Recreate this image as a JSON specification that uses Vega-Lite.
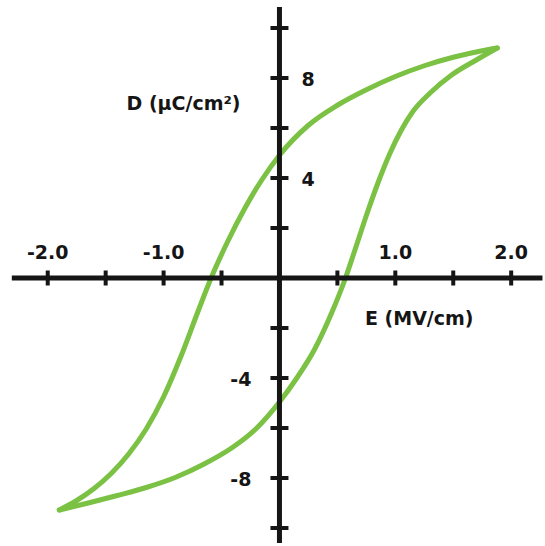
{
  "$schema": "https://vega.github.io/schema/vega-lite/v6.json",
  "width": 545,
  "height": 546,
  "autosize": {"type": "fit", "contains": "padding"},
  "padding": 0,
  "background": "white",
  "config": {"view": {"stroke": null}},
  "datasets": {
    "loop": [
      {"branch": "upper", "E": -1.90, "D": -9.28},
      {"branch": "upper", "E": -1.75, "D": -8.90},
      {"branch": "upper", "E": -1.60, "D": -8.42},
      {"branch": "upper", "E": -1.45, "D": -7.81},
      {"branch": "upper", "E": -1.30, "D": -7.03},
      {"branch": "upper", "E": -1.15, "D": -6.04},
      {"branch": "upper", "E": -1.00, "D": -4.75},
      {"branch": "upper", "E": -0.85, "D": -3.13},
      {"branch": "upper", "E": -0.70, "D": -1.30},
      {"branch": "upper", "E": -0.59, "D": 0.00},
      {"branch": "upper", "E": -0.45, "D": 1.43},
      {"branch": "upper", "E": -0.30, "D": 2.78},
      {"branch": "upper", "E": -0.15, "D": 3.94},
      {"branch": "upper", "E": 0.00, "D": 4.91},
      {"branch": "upper", "E": 0.25, "D": 6.11},
      {"branch": "upper", "E": 0.50, "D": 6.91},
      {"branch": "upper", "E": 0.75, "D": 7.53},
      {"branch": "upper", "E": 1.00, "D": 8.06},
      {"branch": "upper", "E": 1.25, "D": 8.49},
      {"branch": "upper", "E": 1.50, "D": 8.83},
      {"branch": "upper", "E": 1.75, "D": 9.09},
      {"branch": "upper", "E": 1.88, "D": 9.20},
      {"branch": "lower", "E": -1.90, "D": -9.28},
      {"branch": "lower", "E": -1.65, "D": -9.00},
      {"branch": "lower", "E": -1.40, "D": -8.70},
      {"branch": "lower", "E": -1.15, "D": -8.38},
      {"branch": "lower", "E": -0.90, "D": -7.98},
      {"branch": "lower", "E": -0.65, "D": -7.44},
      {"branch": "lower", "E": -0.40, "D": -6.76},
      {"branch": "lower", "E": -0.20, "D": -6.02},
      {"branch": "lower", "E": 0.00, "D": -4.96},
      {"branch": "lower", "E": 0.15, "D": -4.00},
      {"branch": "lower", "E": 0.30, "D": -2.88},
      {"branch": "lower", "E": 0.45, "D": -1.40},
      {"branch": "lower", "E": 0.57, "D": 0.00},
      {"branch": "lower", "E": 0.65, "D": 1.10},
      {"branch": "lower", "E": 0.75, "D": 2.50},
      {"branch": "lower", "E": 0.85, "D": 3.80},
      {"branch": "lower", "E": 0.95, "D": 4.95},
      {"branch": "lower", "E": 1.05, "D": 5.90},
      {"branch": "lower", "E": 1.15, "D": 6.65},
      {"branch": "lower", "E": 1.30, "D": 7.40},
      {"branch": "lower", "E": 1.48, "D": 8.10},
      {"branch": "lower", "E": 1.71, "D": 8.75},
      {"branch": "lower", "E": 1.88, "D": 9.20}
    ],
    "xticks": [
      {"E": -2.0}, {"E": -1.5}, {"E": -1.0}, {"E": -0.5},
      {"E": 0.5}, {"E": 1.0}, {"E": 1.5}, {"E": 2.0}
    ],
    "yticks": [
      {"D": -10}, {"D": -8}, {"D": -6}, {"D": -4}, {"D": -2},
      {"D": 2}, {"D": 4}, {"D": 6}, {"D": 8}, {"D": 10}
    ],
    "xlabels": [
      {"E": -2.0, "label": "-2.0"},
      {"E": -1.0, "label": "-1.0"},
      {"E": 1.0, "label": "1.0"},
      {"E": 2.0, "label": "2.0"}
    ],
    "ylabels": [
      {"D": 8, "label": "8"},
      {"D": 4, "label": "4"},
      {"D": -4, "label": "-4"},
      {"D": -8, "label": "-8"}
    ]
  },
  "layer": [
    {
      "data": {"name": "loop"},
      "mark": {"type": "line", "interpolate": "monotone", "strokeWidth": 5, "color": "#7bc143", "strokeCap": "round", "strokeJoin": "round"},
      "encoding": {
        "x": {"field": "E", "type": "quantitative", "scale": {"domain": [-2.412, 2.266], "nice": false, "zero": false}, "axis": null},
        "y": {"field": "D", "type": "quantitative", "scale": {"domain": [-10.72, 11.12], "nice": false, "zero": false}, "axis": null},
        "detail": {"field": "branch"}
      }
    },
    {
      "data": {"values": [{}]},
      "mark": {"type": "rule", "strokeWidth": 5, "color": "#151515"},
      "encoding": {
        "x": {"datum": -2.31, "type": "quantitative", "scale": {"domain": [-2.412, 2.266], "nice": false, "zero": false}, "axis": null},
        "x2": {"datum": 2.27},
        "y": {"datum": 0, "type": "quantitative", "scale": {"domain": [-10.72, 11.12], "nice": false, "zero": false}, "axis": null}
      }
    },
    {
      "data": {"values": [{}]},
      "mark": {"type": "rule", "strokeWidth": 5, "color": "#151515"},
      "encoding": {
        "x": {"datum": 0, "type": "quantitative", "scale": {"domain": [-2.412, 2.266], "nice": false, "zero": false}, "axis": null},
        "y": {"datum": 10.84, "type": "quantitative", "scale": {"domain": [-10.72, 11.12], "nice": false, "zero": false}, "axis": null},
        "y2": {"datum": -10.6}
      }
    },
    {
      "data": {"name": "xticks"},
      "mark": {"type": "tick", "orient": "vertical", "size": 15, "thickness": 4, "color": "#151515", "opacity": 1},
      "encoding": {
        "x": {"field": "E", "type": "quantitative", "scale": {"domain": [-2.412, 2.266], "nice": false, "zero": false}, "axis": null},
        "y": {"datum": 0, "type": "quantitative", "scale": {"domain": [-10.72, 11.12], "nice": false, "zero": false}, "axis": null}
      }
    },
    {
      "data": {"name": "yticks"},
      "mark": {"type": "tick", "orient": "horizontal", "size": 18, "thickness": 4, "color": "#151515", "opacity": 1},
      "encoding": {
        "x": {"datum": 0, "type": "quantitative", "scale": {"domain": [-2.412, 2.266], "nice": false, "zero": false}, "axis": null},
        "y": {"field": "D", "type": "quantitative", "scale": {"domain": [-10.72, 11.12], "nice": false, "zero": false}, "axis": null}
      }
    },
    {
      "data": {"name": "xlabels"},
      "mark": {"type": "text", "font": "DejaVu Sans", "fontWeight": "bold", "fontSize": 19, "color": "#151515", "align": "center", "baseline": "middle", "dy": -25},
      "encoding": {
        "x": {"field": "E", "type": "quantitative", "scale": {"domain": [-2.412, 2.266], "nice": false, "zero": false}, "axis": null},
        "y": {"datum": 0, "type": "quantitative", "scale": {"domain": [-10.72, 11.12], "nice": false, "zero": false}, "axis": null},
        "text": {"field": "label"}
      }
    },
    {
      "data": {"name": "ylabels"},
      "transform": [{"filter": "datum.D > 0"}],
      "mark": {"type": "text", "font": "DejaVu Sans", "fontWeight": "bold", "fontSize": 19, "color": "#151515", "align": "left", "baseline": "middle", "dx": 22, "dy": 2},
      "encoding": {
        "x": {"datum": 0, "type": "quantitative", "scale": {"domain": [-2.412, 2.266], "nice": false, "zero": false}, "axis": null},
        "y": {"field": "D", "type": "quantitative", "scale": {"domain": [-10.72, 11.12], "nice": false, "zero": false}, "axis": null},
        "text": {"field": "label"}
      }
    },
    {
      "data": {"name": "ylabels"},
      "transform": [{"filter": "datum.D < 0"}],
      "mark": {"type": "text", "font": "DejaVu Sans", "fontWeight": "bold", "fontSize": 19, "color": "#151515", "align": "right", "baseline": "middle", "dx": -28, "dy": 2},
      "encoding": {
        "x": {"datum": 0, "type": "quantitative", "scale": {"domain": [-2.412, 2.266], "nice": false, "zero": false}, "axis": null},
        "y": {"field": "D", "type": "quantitative", "scale": {"domain": [-10.72, 11.12], "nice": false, "zero": false}, "axis": null},
        "text": {"field": "label"}
      }
    },
    {
      "data": {"values": [{}]},
      "mark": {"type": "text", "font": "DejaVu Sans", "fontWeight": "bold", "fontSize": 19, "color": "#151515", "align": "left", "baseline": "alphabetic"},
      "encoding": {
        "x": {"datum": -1.32, "type": "quantitative", "scale": {"domain": [-2.412, 2.266], "nice": false, "zero": false}, "axis": null},
        "y": {"datum": 6.72, "type": "quantitative", "scale": {"domain": [-10.72, 11.12], "nice": false, "zero": false}, "axis": null},
        "text": {"value": "D (μC/cm²)"}
      }
    },
    {
      "data": {"values": [{}]},
      "mark": {"type": "text", "font": "DejaVu Sans", "fontWeight": "bold", "fontSize": 19, "color": "#151515", "align": "left", "baseline": "alphabetic"},
      "encoding": {
        "x": {"datum": 0.738, "type": "quantitative", "scale": {"domain": [-2.412, 2.266], "nice": false, "zero": false}, "axis": null},
        "y": {"datum": -1.88, "type": "quantitative", "scale": {"domain": [-10.72, 11.12], "nice": false, "zero": false}, "axis": null},
        "text": {"value": "E (MV/cm)"}
      }
    }
  ]
}
